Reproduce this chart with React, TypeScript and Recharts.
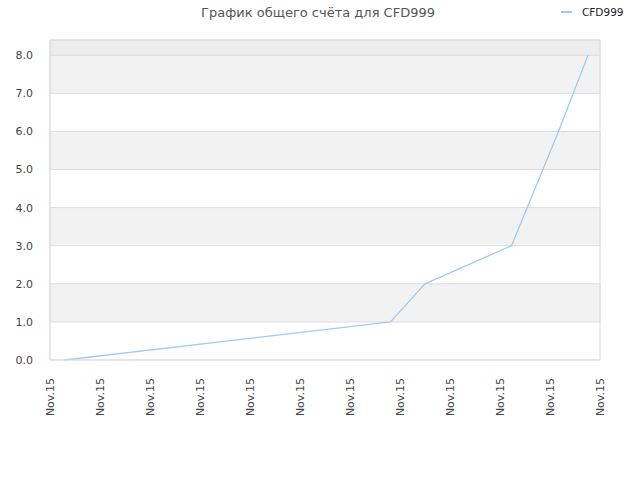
import React from 'react';
import { LineChart, Line, XAxis, YAxis, ReferenceArea } from 'recharts';

const xValues = [0.29, 6.81, 7.5, 9.23, 10.17, 10.76];
const yValues = [0.0, 1.0, 2.0, 3.0, 6.0, 8.0];
const xTicks = [0, 1, 2, 3, 4, 5, 6, 7, 8, 9, 10, 11];
const xTickLabel = 'Nov.15';
const yTicks = [0, 1, 2, 3, 4, 5, 6, 7, 8];
const bands = [[1, 2], [3, 4], [5, 6], [7, 8]];
const seriesName = 'CFD999';
const title = 'График общего счёта для CFD999';

const data = xValues.map((x, i) => ({ x, v: yValues[i] }));

const FONT = '"DejaVu Sans", sans-serif';

const XTick = (props: any) => {
  const { x, y } = props;
  return (
    <text
      x={x}
      y={y}
      transform={`rotate(-90, ${x}, ${y})`}
      textAnchor="end"
      dy="0.35em"
      fontSize={11}
      fill="#444"
      fontFamily={FONT}
    >
      {xTickLabel}
    </text>
  );
};

export default function App() {
  return (
    <div style={{ position: 'absolute', left: 0, top: 0, width: 640, height: 480, background: '#fff', fontFamily: FONT }}>
      <div style={{ position: 'absolute', left: 0, width: 636, top: 5, textAlign: 'center', fontSize: 13, color: '#555' }}>
        {title}
      </div>
      <div style={{ position: 'absolute', left: 561, top: 6, display: 'flex', alignItems: 'center', fontSize: 10.5, color: '#222' }}>
        <span style={{ display: 'inline-block', width: 11, height: 2, background: '#9ecaf5', marginRight: 10 }} />
        {seriesName}
      </div>
      <LineChart width={640} height={480} data={data} margin={{ top: 40, right: 40, left: 0, bottom: 0 }}>
        <XAxis
          dataKey="x"
          type="number"
          domain={[0, 11]}
          ticks={xTicks}
          interval={0}
          height={120}
          tick={<XTick />}
          tickLine={false}
          axisLine={{ stroke: '#dddddd' }}
          tickMargin={12}
        />
        <YAxis
          type="number"
          domain={[0, 8.4]}
          ticks={yTicks}
          interval={0}
          width={50}
          tickFormatter={(v: number) => v.toFixed(1)}
          tick={{ fontSize: 11, fill: '#444', fontFamily: FONT }}
          tickLine={false}
          axisLine={{ stroke: '#dddddd' }}
          tickMargin={11}
        />
        {bands.map(([a, b]) => (
          <ReferenceArea key={a} y1={a} y2={b} fill="#f2f2f2" fillOpacity={1} stroke="#dddddd" strokeWidth={1} />
        ))}
        <ReferenceArea y1={8} y2={8.4} fill="#ededed" fillOpacity={1} stroke="#dddddd" strokeWidth={1} />
        <ReferenceArea y1={0} y2={8.4} fill="none" stroke="#dddddd" strokeWidth={1} />
        <Line
          type="linear"
          dataKey="v"
          stroke="#9ecaf5"
          strokeWidth={1.3}
          dot={false}
          isAnimationActive={false}
        />
      </LineChart>
    </div>
  );
}
